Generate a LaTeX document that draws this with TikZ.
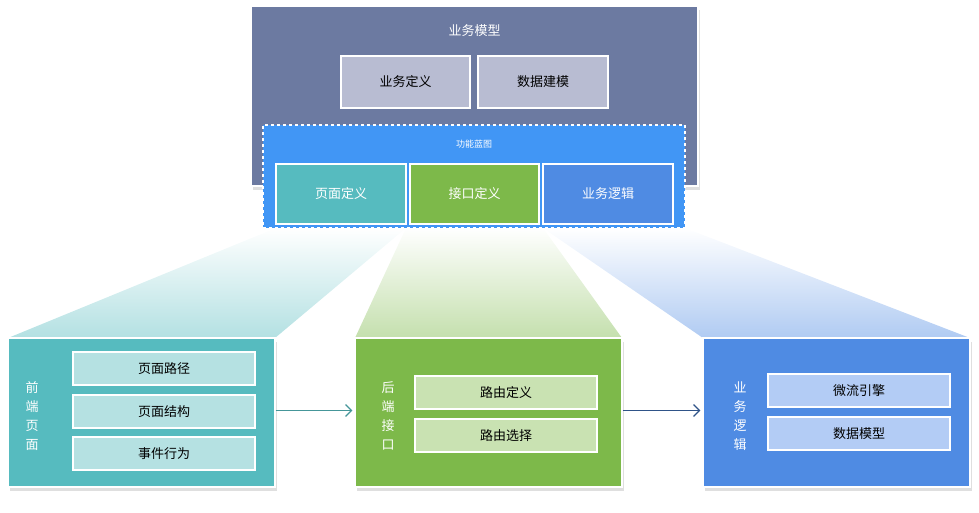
\documentclass[tikz,border=0pt]{standalone}
\usepackage{fontspec}
\setmainfont{Noto Sans CJK SC}
\usetikzlibrary{arrows.meta,calc}
\definecolor{model}{HTML}{6C7AA1}
\definecolor{modelin}{HTML}{B8BCD2}
\definecolor{blueprint}{HTML}{4196F5}
\definecolor{teal}{HTML}{56BBBF}
\definecolor{tealin}{HTML}{B5E1E2}
\definecolor{grn}{HTML}{7DB94A}
\definecolor{grnin}{HTML}{C9E2B2}
\definecolor{blu}{HTML}{4F8BE3}
\definecolor{bluin}{HTML}{B3CCF5}
\tikzset{
  box/.style={draw=white,line width=1.2pt,inner sep=0pt,font=\fontsize{13}{15}\selectfont},
  panel/.style={box,drop shadow={shadow xshift=2pt,shadow yshift=-4pt,opacity=0.25}},
  vlabel/.style={text=white,align=center,font=\fontsize{13}{19}\selectfont},
  fan/.style={draw=none}
}
\usetikzlibrary{shadows}
\begin{document}
\begin{tikzpicture}[x=1pt,y=-1pt]
\useasboundingbox (0,0) rectangle (979,513);

% business model
\node[panel,fill=model,minimum width=447,minimum height=180] (model) at (474.5,96) {};
\node[text=white,font=\fontsize{13}{15}\selectfont] (modelT) at (474.5,31) {业务模型};
\node[box,fill=modelin,minimum width=129,minimum height=52] (bdef) at (405.5,82) {业务定义};
\node[box,fill=modelin,minimum width=130,minimum height=52] (dmod) at (543,82) {数据建模};

% function blueprint
\node[draw=white,dashed,line width=1.2pt,fill=blueprint,minimum width=422,minimum height=103,inner sep=0pt] (bp) at (474,176.5) {};
\node[text=white,font=\fontsize{9}{11}\selectfont] (bpT) at (474,144) {功能蓝图};
\node[box,fill=teal,text=white,minimum width=130,minimum height=60] (pdef) at (341,194) {页面定义};
\node[box,fill=grn,text=white,minimum width=129,minimum height=60] (idef) at (474.5,194) {接口定义};
\node[box,fill=blu,text=white,minimum width=130,minimum height=60] (ldef) at (608,194) {业务逻辑};

% fans
\shade[top color=white,bottom color=teal!45] (276,228) -- (406,228) -- (275,338) -- (8,338) -- cycle;
\shade[top color=white,bottom color=grn!45] (406,228) -- (543,228) -- (622,338) -- (355,338) -- cycle;
\shade[top color=white,bottom color=blu!45] (543,228) -- (685,228) -- (970,338) -- (703,338) -- cycle;

% front end
\node[panel,fill=teal,minimum width=267,minimum height=149] (fe) at (141.5,412.5) {};
\node[vlabel] (feT) at (32,416) {前\\端\\页\\面};
\node[box,fill=tealin,minimum width=182,minimum height=33] (f1) at (164,368.5) {页面路径};
\node[box,fill=tealin,minimum width=182,minimum height=33] (f2) at (164,411.5) {页面结构};
\node[box,fill=tealin,minimum width=182,minimum height=33] (f3) at (164,453.5) {事件行为};

% back end
\node[panel,fill=grn,minimum width=267,minimum height=149] (be) at (488.5,412.5) {};
\node[vlabel] (beT) at (388,416) {后\\端\\接\\口};
\node[box,fill=grnin,minimum width=182,minimum height=33] (b1) at (506,392.5) {路由定义};
\node[box,fill=grnin,minimum width=182,minimum height=33] (b2) at (506,435.5) {路由选择};

% logic
\node[panel,fill=blu,minimum width=267,minimum height=149] (lg) at (836.5,412.5) {};
\node[vlabel] (lgT) at (740,416) {业\\务\\逻\\辑};
\node[box,fill=bluin,minimum width=182,minimum height=33] (l1) at (859,390.5) {微流引擎};
\node[box,fill=bluin,minimum width=182,minimum height=33] (l2) at (859,433.5) {数据模型};

% arrows
\draw[teal!80!black,line width=1.2pt,-{Straight Barb[length=6pt,width=12pt]}] ($(fe.east)+(0,-2)$) -- ($(be.west)+(-2,-2)$);
\draw[blu!60!black,line width=1.2pt,-{Straight Barb[length=6pt,width=12pt]}] ($(be.east)+(0,-2)$) -- ($(lg.west)+(-2,-2)$);
\end{tikzpicture}
\end{document}
